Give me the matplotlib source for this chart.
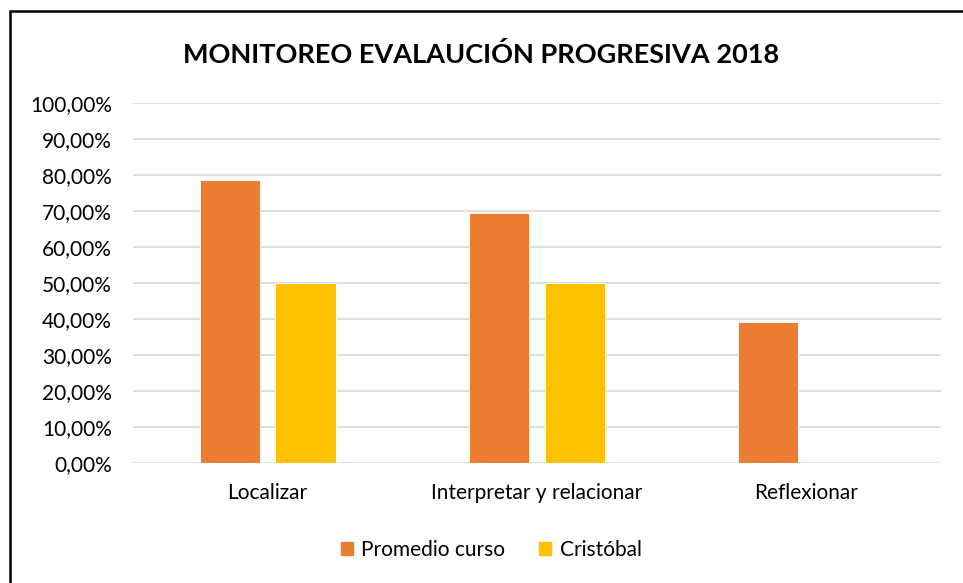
import matplotlib
matplotlib.use("Agg")
import matplotlib.pyplot as plt
from matplotlib.patches import Rectangle, Patch
from matplotlib.ticker import FuncFormatter, MultipleLocator
import numpy as np

categories = ["Localizar", "Interpretar y relacionar", "Reflexionar"]
promedio_curso = [0.787, 0.694, 0.392]
cristobal = [0.50, 0.50, 0.0]
series_names = ["Promedio curso", "Cristóbal"]
title = "MONITOREO EVALAUCIÓN PROGRESIVA 2018"

plt.rcParams['font.family'] = ['Lato', 'DejaVu Sans']

fig = plt.figure(figsize=(9.63, 5.83), dpi=100)
ax = fig.add_axes([0.138, 0.2053, 0.977 - 0.138, 0.8228 - 0.2053])

x = np.arange(len(categories))
w = 0.223
off = 0.141
ax.bar(x - off, promedio_curso, w, color="#ED7D31", edgecolor="white", linewidth=0.6, zorder=3)
ax.bar(x + off, cristobal, w, color="#FFC000", edgecolor="white", linewidth=0.6, zorder=3)

ax.set_xlim(-0.5, 2.5)
ax.set_ylim(0, 1.0)
ax.yaxis.set_major_locator(MultipleLocator(0.1))
ax.yaxis.set_major_formatter(FuncFormatter(lambda v, p: f"{v*100:.2f}%".replace(".", ",")))
ax.set_xticks(x)
ax.set_xticklabels(categories)
ax.grid(axis="y", color="#D9D9D9", linewidth=1.2, zorder=0)
for s in ax.spines.values():
    s.set_visible(False)
ax.tick_params(axis="both", length=0, labelsize=15, colors="#000000")
ax.tick_params(axis="x", pad=14)
ax.tick_params(axis="y", pad=15)

fig.text(0.5, 0.906, title, ha="center", va="center", fontsize=19.5, fontweight="bold")

handles = [Patch(color="#ED7D31"), Patch(color="#FFC000")]
fig.legend(handles, series_names, loc="center", bbox_to_anchor=(0.51, 0.057), ncol=2,
           frameon=False, fontsize=15, handlelength=0.6, handleheight=0.6,
           handletextpad=0.4, columnspacing=1.6)

fig.patches.append(Rectangle((10 / 963, -0.1), 1.2, 1 - 11 / 583 + 0.1,
                             transform=fig.transFigure, fill=False,
                             edgecolor="black", linewidth=1.8))

fig.savefig("out.png", dpi=100)
